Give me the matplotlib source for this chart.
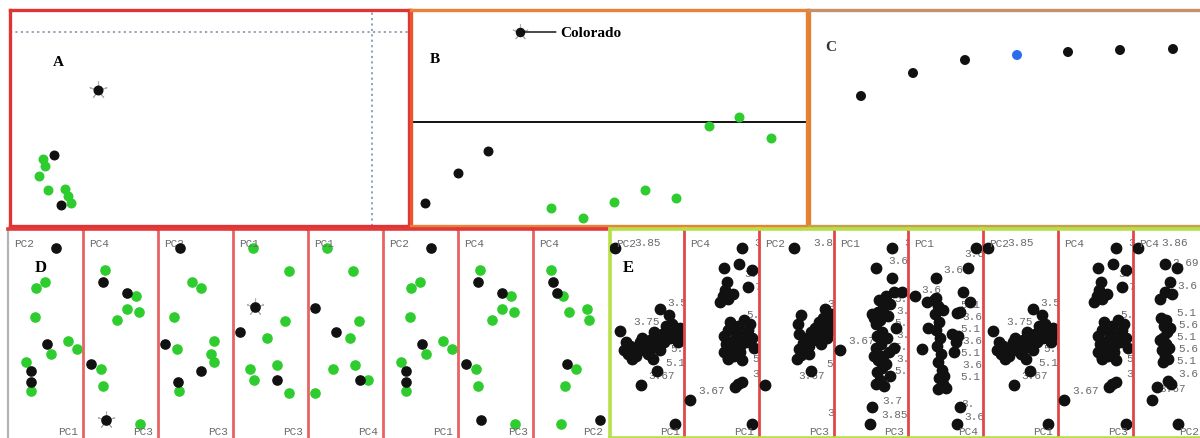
import matplotlib
matplotlib.use("Agg")
import matplotlib.pyplot as plt

W, H = 1200, 439

# ---------------- data ----------------
# Panel A
a_black_x = [4.4, 5.1]
a_black_y = [7.1, 2.1]
a_green_x = [3.3, 3.5, 2.9, 3.8, 5.5, 5.8, 6.1]
a_green_y = [6.7, 6.0, 5.0, 3.6, 3.7, 3.0, 2.3]
a_star_x = [8.8]
a_star_y = [13.6]
a_hline = 19.4
a_vline = 36.2

# Panel B
b_black_x = [1.4, 4.7, 7.7]
b_black_y = [2.3, 5.3, 7.5]
b_green_x = [14.0, 17.2, 20.3, 23.4, 26.5, 29.8, 32.8, 36.0]
b_green_y = [1.8, 0.8, 2.4, 3.6, 2.8, 10.0, 10.9, 8.8]
b_colorado = (10.9, 19.4)
b_hline = 10.4

# Panel C
c_x = [5.2, 10.4, 15.6, 20.8, 25.9, 31.1, 36.4]
c_y = [13.0, 15.3, 16.6, 17.1, 17.4, 17.6, 17.7]
c_blue_index = 3

# Panel D sub-plots
d_top = ["PC2", "PC4", "PC2", "PC1", "PC1", "PC2", "PC4", "PC4"]
d_bottom = ["PC1", "PC3", "PC3", "PC3", "PC4", "PC1", "PC3", "PC2"]

d21_black_x = [4.8, 3.9, 2.3, 2.3]
d21_black_y = [19.0, 9.4, 6.7, 5.6]
d21_green_x = [3.7, 2.8, 2.7, 4.3, 6.0, 6.9, 1.8, 2.3]
d21_green_y = [15.6, 15.0, 12.1, 8.4, 9.7, 8.9, 7.6, 4.7]

d43_black_x = [2.0, 4.4, 0.8, 2.3]
d43_black_y = [15.6, 14.5, 7.4, 1.8]
d43_green_x = [2.2, 5.3, 4.4, 5.6, 3.4, 1.8, 2.0, 5.7]
d43_green_y = [16.8, 14.2, 12.9, 12.6, 11.8, 6.9, 5.2, 1.4]

d23_black_x = [2.2, 0.7, 4.3, 2.0]
d23_black_y = [19.0, 9.4, 6.7, 5.6]
d23_green_x = [3.4, 4.3, 1.6, 1.9, 5.6, 5.3, 5.6, 2.1]
d23_green_y = [15.6, 15.0, 12.1, 8.9, 9.7, 8.4, 7.6, 4.7]

d13_black_x = [0.7, 4.4]
d13_black_y = [10.6, 5.8]
d13_star_x = [2.2]
d13_star_y = [13.1]
d13_green_x = [2.0, 5.6, 5.2, 3.4, 1.7, 2.1, 4.4, 5.6]
d13_green_y = [19.0, 16.7, 11.7, 10.0, 6.9, 5.8, 7.3, 4.5]

d14_black_x = [0.7, 2.8, 5.2]
d14_black_y = [13.0, 10.6, 5.8]
d14_green_x = [1.9, 4.5, 5.1, 4.2, 2.5, 4.7, 6.0, 0.7]
d14_green_y = [19.0, 16.7, 11.7, 10.0, 6.9, 7.3, 5.8, 4.5]

d42_black_x = [2.0, 2.4, 3.4, 6.7]
d42_black_y = [15.6, 14.5, 7.4, 1.8]
d42_green_x = [1.8, 3.0, 3.6, 5.4, 5.6, 4.3, 3.2, 2.8]
d42_green_y = [16.8, 14.2, 12.6, 12.9, 11.8, 6.9, 5.2, 1.4]

# Panel E sub-plots
e_top = ["PC2", "PC4", "PC2", "PC1", "PC1", "PC2", "PC4", "PC4"]
e_bottom = ["PC1", "PC1", "PC3", "PC3", "PC4", "PC1", "PC3", "PC2"]

e21_x = [0.5, 1.0, 5.0, 5.9, 4.3, 4.7, 3.1, 6.5,
         1.4, 1.8, 2.0, 2.4, 2.8, 3.0, 3.4, 3.6, 4.0, 4.2, 4.6, 4.8, 5.2, 5.4,
         5.8, 6.0, 6.4, 6.6, 7.0, 7.2, 2.6, 3.8, 5.0, 5.6, 6.2, 4.4, 6.8, 3.2, 1.6, 2.2]
e21_y = [19.0, 10.7, 12.9, 12.3, 7.9, 6.7, 5.3, 1.4,
         8.8, 8.4, 9.2, 8.6, 9.0, 9.6, 8.8, 9.4, 9.8, 9.0, 10.0, 9.4, 10.4, 9.6,
         10.6, 10.0, 10.8, 10.2, 11.0, 10.4, 8.2, 8.4, 8.8, 11.2, 11.4, 10.6, 9.6, 10.0, 9.6, 7.9]
e21_labels = [("3.85", 2.4, 19.6), ("3.5", 5.7, 13.6), ("3.75", 2.3, 11.7),
              ("3.67", 3.8, 6.3), ("5.1", 5.5, 7.6), ("3.6", 6.2, 10.0), ("5.6", 6.0, 9.0)]

e41_x = [5.8, 4.0, 5.5, 4.3, 3.6, 4.4, 4.9, 4.1, 6.4, 6.8, 3.9,
         4.0, 4.2, 4.0, 4.4, 4.6, 4.8, 5.0, 5.2, 5.0, 5.6, 5.8, 5.4, 6.2, 6.4,
         6.0, 6.8, 4.4, 5.6, 6.6, 7.0,
         4.4, 5.8, 5.1, 5.8, 5.4, 0.6, 6.8]
e41_y = [19.0, 17.0, 17.4, 15.6, 13.6, 13.9, 14.4, 14.8, 15.1, 16.8, 14.2,
         8.6, 9.4, 10.2, 10.8, 11.6, 9.0, 9.8, 10.6, 8.2, 9.2, 10.2, 11.2, 9.6, 10.8,
         11.8, 10.0, 8.0, 8.6, 11.4, 9.0,
         7.9, 7.8, 5.1, 5.6, 5.4, 3.8, 1.4]
e41_labels = [("3.67", 1.4, 4.8), ("3", 7.0, 19.6), ("3.6", 6.0, 16.5),
              ("3.7", 5.8, 15.2), ("5.", 6.8, 8.0), ("3", 6.8, 6.5), ("5.1", 6.2, 12.4)]

e23_x = [3.5, 4.2, 6.6, 5.2, 0.6,
         3.8, 4.2, 4.0, 4.6, 4.4, 5.0, 4.8, 5.4, 5.2, 5.8, 5.6, 6.2, 6.0, 6.6,
         6.4, 7.0, 7.2, 6.8, 4.0, 3.9, 5.0, 6.2, 7.2]
e23_y = [19.0, 12.3, 12.9, 6.7, 5.3,
         7.9, 8.3, 8.9, 8.7, 9.5, 9.2, 10.0, 9.8, 10.6, 10.2, 11.0, 10.6, 11.6, 11.2,
         12.0, 11.6, 10.8, 10.0, 10.4, 11.4, 8.4, 9.4, 12.4]
e23_labels = [("3.85", 5.4, 19.6), ("3.67", 3.9, 6.3), ("5.", 6.7, 7.5),
              ("3.7", 6.8, 13.5), ("3.6", 6.8, 10.5), ("3", 6.8, 2.6)]

e13_x = [5.8, 4.2, 5.8, 3.8, 0.6, 3.8, 3.6, 6.8,
         4.2, 4.6, 4.3, 4.8, 4.4, 4.9, 4.2, 4.7, 4.3, 4.8, 4.2, 4.6, 4.4, 4.9,
         4.5, 5.2, 5.6, 5.4, 5.3, 5.5, 5.2, 5.6, 5.0, 4.0, 4.0, 6.0, 6.2, 6.0]
e13_y = [19.0, 17.0, 16.0, 12.4, 8.8, 3.1, 1.4, 14.6,
         5.4, 5.8, 6.6, 7.0, 7.8, 8.2, 9.0, 9.4, 10.2, 10.6, 11.4, 11.8, 12.6, 13.0,
         13.8, 14.2, 13.4, 12.2, 10.0, 8.6, 7.4, 6.2, 5.2, 12.0, 8.2, 14.6, 11.0, 9.0]
e13_labels = [("3.67", 1.4, 9.8), ("3.7", 4.8, 3.8), ("3.85", 4.7, 2.4), ("3.6", 5.4, 17.8),
              ("3", 7.0, 19.6), ("5.1", 6.0, 14.0), ("3.6", 6.2, 12.8), ("5.1", 6.0, 11.6),
              ("3.6", 6.2, 10.4), ("5.1", 6.0, 9.2), ("3.6", 6.2, 8.0), ("5.1", 6.0, 6.8)]

e14_x = [6.8, 6.0, 2.8, 5.5, 1.9, 0.7, 6.2, 1.4, 5.2, 4.9, 2.0, 4.9,
         2.8, 3.0, 2.7, 3.1, 2.8, 3.2, 2.9, 3.3, 3.0, 3.4, 3.1, 3.5, 3.8, 3.6,
         3.5, 4.4, 4.8, 4.6, 5.0, 3.0, 2.6, 5.2]
e14_y = [19.0, 17.0, 16.0, 14.6, 13.6, 14.2, 13.6, 8.9, 3.1, 1.4, 11.0, 12.5,
         14.0, 13.2, 12.4, 11.6, 10.8, 10.0, 9.2, 8.4, 7.6, 6.8, 6.0, 5.4, 5.0, 6.2,
         12.8, 10.4, 9.6, 8.6, 10.2, 4.9, 13.8, 12.6]
e14_labels = [("3.6", 3.5, 16.9), ("3.6", 1.3, 14.9), ("3.", 5.3, 3.5), ("3.6", 5.6, 2.2),
              ("3.6", 5.6, 18.5), ("5.1", 5.2, 13.4), ("3.6", 5.4, 12.2), ("5.1", 5.2, 11.0),
              ("3.6", 5.4, 9.8), ("5.1", 5.2, 8.6), ("3.6", 5.4, 7.4), ("5.1", 5.2, 6.2)]

e42_x = [0.5, 3.2, 4.4, 3.7, 2.7, 3.9, 3.2, 2.4, 3.5, 3.8, 1.9, 4.5,
         3.0, 3.2, 2.9, 3.3, 3.0, 3.4, 3.1, 3.3, 2.8, 3.6, 2.7, 3.7, 3.5]
e42_y = [19.0, 17.4, 17.0, 15.6, 13.9, 14.4, 14.6, 5.1, 5.7, 5.4, 3.8, 1.4,
         7.6, 8.2, 8.8, 9.4, 10.0, 10.6, 11.2, 11.8, 12.0, 9.0, 9.8, 11.0, 7.9]
e42_labels = [("3.86", 2.8, 19.6), ("3.69", 3.9, 17.6), ("3.67", 2.6, 5.0), ("3.6", 4.5, 6.5),
              ("5.1", 4.3, 12.6), ("5.6", 4.5, 11.4), ("5.1", 4.3, 10.2), ("5.6", 4.5, 9.0),
              ("5.1", 4.3, 7.8), ("3.6", 4.4, 15.3)]

# ---------------- style ----------------
BLACK = "#111111"
GREEN = "#2ecc2e"
BLUE = "#2a6cf0"
GREY_TXT = "#6a6a6a"
SERIF = ["Liberation Serif", "DejaVu Serif"]
MONO = ["Liberation Mono", "DejaVu Sans Mono"]

fig = plt.figure(figsize=(W / 100, H / 100), dpi=100)
fig.patch.set_facecolor("white")


def add_ax(x0, y0, x1, y1):
    ax = fig.add_axes([x0 / W, 1 - y1 / H, (x1 - x0) / W, (y1 - y0) / H])
    ax.set_xticks([])
    ax.set_yticks([])
    ax.set_facecolor("white")
    return ax


def set_spines(ax, colors, lws):
    for side in ["left", "right", "top", "bottom"]:
        c = colors.get(side)
        if c is None:
            ax.spines[side].set_visible(False)
        else:
            ax.spines[side].set_color(c)
            ax.spines[side].set_linewidth(lws.get(side, 2.0))


def star(ax, x, y, s=160):
    ax.scatter(x, y, s=s, marker=(5, 2, 0), color="#b0b0b0", linewidths=0.8, zorder=2)


# ---- Panel A ----
axA = add_ax(10, 11, 409, 227)
axA.set_xlim(0, 39.9)
axA.set_ylim(0, 21.6)
set_spines(axA, {s: "#e03434" for s in ["left", "right", "top", "bottom"]},
           {s: 2.4 for s in ["left", "right", "top", "bottom"]})
axA.axhline(a_hline, color="#8a9cb4", lw=1.3, ls=(0, (1.2, 1.8)))
axA.axvline(a_vline, color="#8a9cb4", lw=1.3, ls=(0, (1.2, 1.8)))
star(axA, a_star_x, a_star_y)
axA.scatter(a_star_x, a_star_y, s=38, color=BLACK, zorder=3)
axA.scatter(a_green_x, a_green_y, s=38, color=GREEN, zorder=3)
axA.scatter(a_black_x, a_black_y, s=38, color=BLACK, zorder=3)
axA.text(4.8, 16.5, "A", family=SERIF, fontweight="bold", fontsize=11, ha="center", va="center")

# ---- Panel B ----
axB = add_ax(411, 11, 807, 227)
axB.set_xlim(0, 39.6)
axB.set_ylim(0, 21.6)
set_spines(axB, {"left": "#e8562a", "right": "#e8823a", "top": "#e8823a", "bottom": "#e8823a"},
           {s: 2.4 for s in ["left", "right", "top", "bottom"]})
axB.axhline(b_hline, color="black", lw=1.3)
star(axB, [b_colorado[0]], [b_colorado[1]], s=120)
axB.scatter([b_colorado[0]], [b_colorado[1]], s=34, color=BLACK, zorder=3)
axB.annotate("Colorado", xy=b_colorado, xytext=(b_colorado[0] + 4.0, b_colorado[1]),
             arrowprops=dict(arrowstyle="-", color="black", lw=1.0, shrinkA=1, shrinkB=3),
             va="center", ha="left", family=SERIF, fontweight="bold", fontsize=11)
axB.scatter(b_black_x, b_black_y, s=38, color=BLACK, zorder=3)
axB.scatter(b_green_x, b_green_y, s=38, color=GREEN, zorder=3)
axB.text(2.4, 16.8, "B", family=SERIF, fontweight="bold", fontsize=11, ha="center", va="center")

# ---- Panel C ----
axC = add_ax(809, 11, 1200, 227)
axC.set_xlim(0, 39.1)
axC.set_ylim(0, 21.6)
set_spines(axC, {"left": "#e0822e", "top": "#c8906a", "bottom": "#c4a050"},
           {s: 2.4 for s in ["left", "right", "top", "bottom"]})
c_cols = [BLUE if i == c_blue_index else BLACK for i in range(len(c_x))]
axC.scatter(c_x, c_y, s=38, c=c_cols, zorder=3)
axC.text(2.2, 18.0, "C", family=SERIF, fontweight="bold", fontsize=11, ha="center", va="center",
         color="#333333")

# ---- Panel D ----
d_lefts = [8, 83, 158, 233, 308, 383, 458, 533]
d_data = [
    (d21_black_x, d21_black_y, d21_green_x, d21_green_y),
    (d43_black_x, d43_black_y, d43_green_x, d43_green_y),
    (d23_black_x, d23_black_y, d23_green_x, d23_green_y),
    (d13_black_x + d13_star_x, d13_black_y + d13_star_y, d13_green_x, d13_green_y),
    (d14_black_x, d14_black_y, d14_green_x, d14_green_y),
    (d21_black_x, d21_black_y, d21_green_x, d21_green_y),
    (d43_black_x, d43_black_y, d43_green_x, d43_green_y),
    (d42_black_x, d42_black_y, d42_green_x, d42_green_y),
]
for i, left in enumerate(d_lefts):
    ax = add_ax(left, 230, left + 75, 439)
    ax.set_xlim(0, 7.5)
    ax.set_ylim(0, 20.9)
    set_spines(ax, {"top": "#e03a3a", "left": "#b4b4b4" if i == 0 else "#e86464"},
               {"top": 2.6, "left": 1.6 if i == 0 else 2.0})
    bx, by, gx, gy = d_data[i]
    if i == 1:
        star(ax, [d43_black_x[3]], [d43_black_y[3]], s=150)
    if i == 3:
        star(ax, d13_star_x, d13_star_y, s=150)
    ax.scatter(gx, gy, s=44, color=GREEN, zorder=3)
    ax.scatter(bx, by, s=44, color=BLACK, zorder=4)
    ax.text(0.6, 19.5, d_top[i], family=MONO, fontsize=8, color=GREY_TXT, va="center", ha="left")
    ax.text(7.0, 0.7, d_bottom[i], family=MONO, fontsize=8, color=GREY_TXT, va="center", ha="right")
    if i == 0:
        ax.text(3.3, 17.1, "D", family=SERIF, fontweight="bold", fontsize=12, ha="center", va="center")

# ---- Panel E ----
e_lefts = [610, 684, 759, 834, 908, 983, 1058, 1133]
e_data = [
    (e21_x, e21_y, e21_labels),
    (e41_x, e41_y, e41_labels),
    (e23_x, e23_y, e23_labels),
    (e13_x, e13_y, e13_labels),
    (e14_x, e14_y, e14_labels),
    (e21_x, e21_y, e21_labels),
    (e41_x, e41_y, e41_labels),
    (e42_x, e42_y, e42_labels),
]
GY = "#b6e04a"
for i, left in enumerate(e_lefts):
    ax = add_ax(left, 230, left + 75, 439)
    ax.set_xlim(0, 7.5)
    ax.set_ylim(0, 20.9)
    set_spines(ax, {"top": GY, "bottom": GY, "left": GY if i == 0 else "#e04848"},
               {"top": 2.6, "bottom": 2.6, "left": 2.6 if i == 0 else 2.0})
    ex, ey, labs = e_data[i]
    for txt, tx, ty in labs:
        ax.text(tx, ty, txt, family=MONO, fontsize=8, color=GREY_TXT, va="center", ha="left",
                clip_on=True, zorder=2)
    ax.scatter(ex, ey, s=56, color=BLACK, zorder=3)
    ax.text(0.6, 19.5, e_top[i], family=MONO, fontsize=8, color=GREY_TXT, va="center", ha="left",
            zorder=4)
    ax.text(7.0 if i < 7 else 6.6, 0.7, e_bottom[i], family=MONO, fontsize=8, color=GREY_TXT,
            va="center", ha="right", zorder=4)
    if i == 0:
        ax.text(1.8, 17.1, "E", family=SERIF, fontweight="bold", fontsize=12, ha="center", va="center")

fig.savefig("out.png", dpi=100, facecolor="white")
